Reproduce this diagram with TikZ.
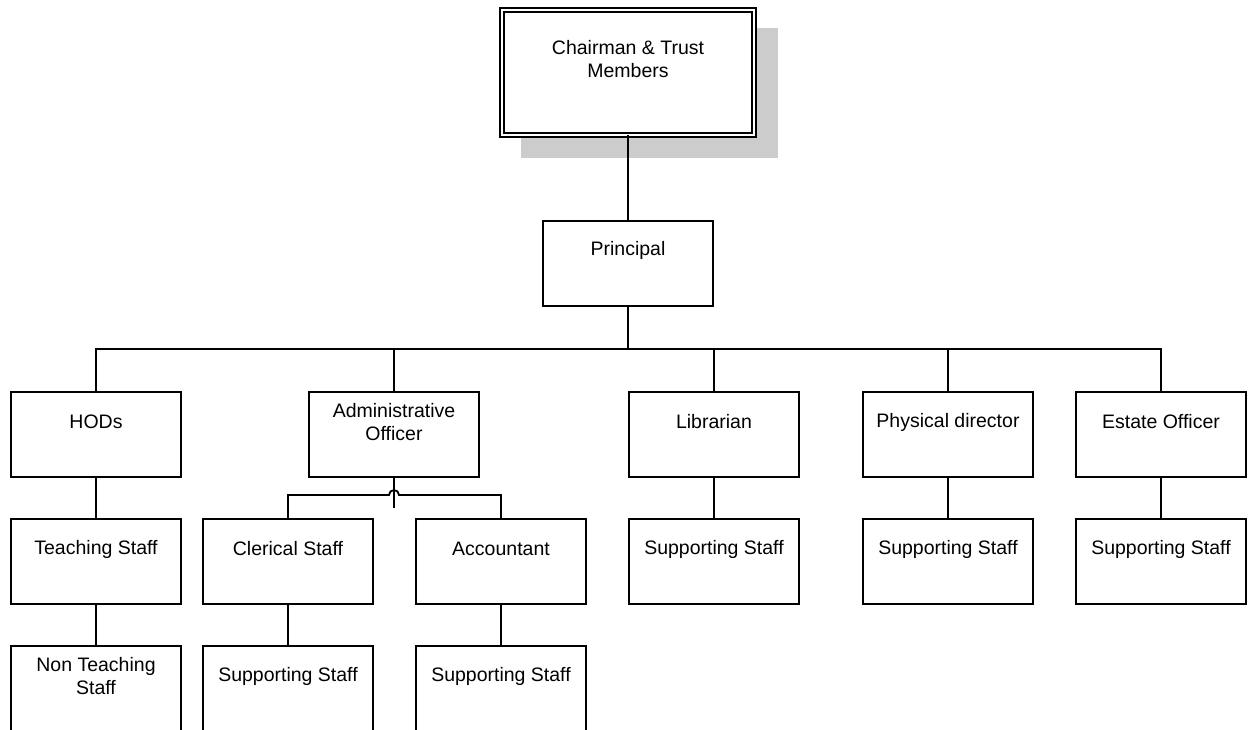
\documentclass[tikz,border=0pt]{standalone}
\usepackage{fontspec}
\setmainfont{Liberation Sans}
\usetikzlibrary{calc}
\tikzset{
  orgbox/.style={draw, line width=1.8pt, fill=white, minimum width=170pt, minimum height=85pt, anchor=north west, inner sep=0pt, outer sep=0pt},
  txt/.style={anchor=center, yshift=-30pt, align=center, inner sep=0pt, font=\fontsize{19.5}{23.5}\selectfont},
  conn/.style={line width=1.8pt}
}
\begin{document}
\begin{tikzpicture}[x=1pt,y=-1pt]
\useasboundingbox (0,0) rectangle (1248,730);
\clip (0,0) rectangle (1248,730);
% shadow
\fill[gray!40] (521,28) rectangle (778,158);
% top
\node[draw, line width=1.6pt, double, double distance=2.2pt, fill=white, minimum width=252pt, minimum height=125pt, anchor=north west, inner sep=0pt, outer sep=0pt,
  label={[txt,yshift=-19pt]north:{Chairman \& Trust\\Members}}] (ch) at (502,10) {};
\node[orgbox, label={[txt,yshift=1pt]north:Principal}] (pr) at (543,221) {};
% row 1
\node[orgbox, label={[txt]north:HODs}] (hod) at (11,392) {};
\node[orgbox, label={[txt]north:{Administrative\\Officer}}] (adm) at (309,392) {};
\node[orgbox, label={[txt]north:Librarian}] (lib) at (629,392) {};
\node[orgbox, label={[txt]north:Physical director}] (phy) at (863,392) {};
\node[orgbox, label={[txt]north:Estate Officer}] (est) at (1076,392) {};
% row 2
\node[orgbox, label={[txt]north:Teaching Staff}] (tea) at (11,519) {};
\node[orgbox, label={[txt]north:Clerical Staff}] (cle) at (203,519) {};
\node[orgbox, label={[txt]north:Accountant}] (acc) at (416,519) {};
\node[orgbox, label={[txt]north:Supporting Staff}] (s1) at (629,519) {};
\node[orgbox, label={[txt]north:Supporting Staff}] (s2) at (863,519) {};
\node[orgbox, label={[txt]north:Supporting Staff}] (s3) at (1076,519) {};
% row 3
\node[orgbox, label={[txt]north:{Non Teaching\\Staff}}] (non) at (11,646) {};
\node[orgbox, label={[txt]north:Supporting Staff}] (s4) at (203,646) {};
\node[orgbox, label={[txt]north:Supporting Staff}] (s5) at (416,646) {};
% connectors
\coordinate (by) at (0,349);
\coordinate (bus) at (pr.south |- by);
\coordinate (hy) at (0,495);
\draw[conn] (ch.south) -- (pr.north);
\draw[conn] (pr.south) -- (bus);
\foreach \n in {hod,adm,lib,phy,est} \draw[conn] (\n.north) |- (bus);
\draw[conn] (adm.south) -- ++(0,31);
\draw[conn] (cle.north) |- ($(adm.south|-hy)+(-5,0)$) arc[start angle=180,end angle=360,radius=5] -| (acc.north);
\draw[conn] (hod.south) -- (tea.north);
\draw[conn] (lib.south) -- (s1.north);
\draw[conn] (phy.south) -- (s2.north);
\draw[conn] (est.south) -- (s3.north);
\draw[conn] (tea.south) -- (non.north);
\draw[conn] (cle.south) -- (s4.north);
\draw[conn] (acc.south) -- (s5.north);
\end{tikzpicture}
\end{document}
